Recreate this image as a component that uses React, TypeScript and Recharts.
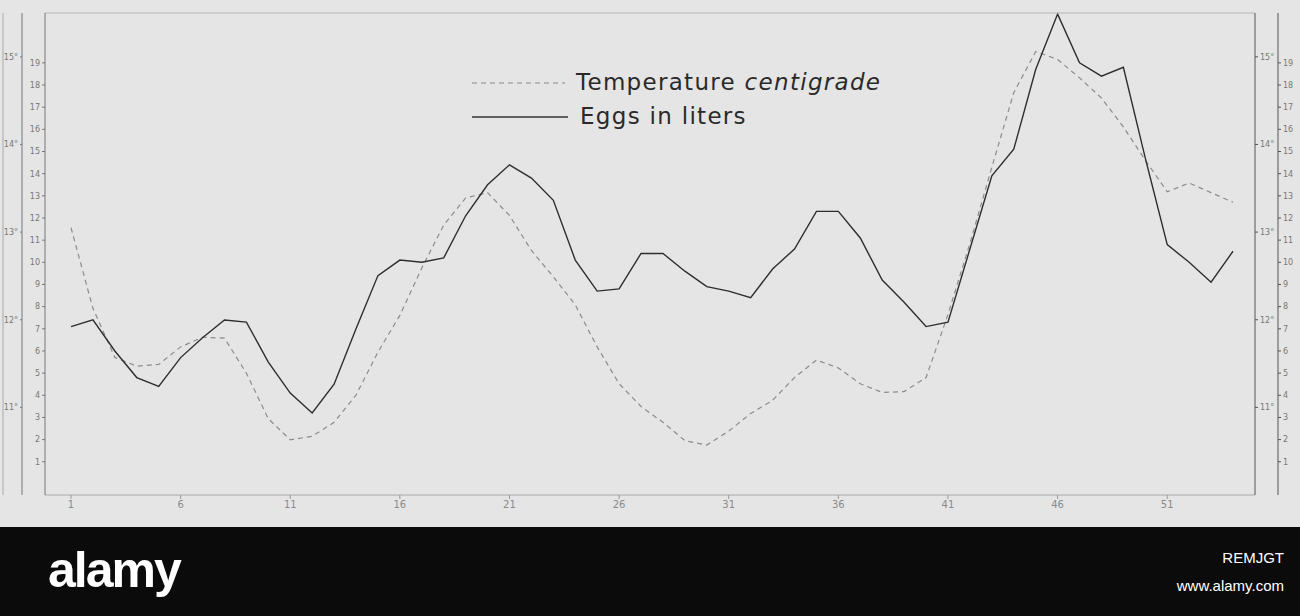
import { LineChart, Line, XAxis, YAxis, Legend } from 'recharts';

// day numbers along the bottom (one point per day)
const days = [
  '1', '2', '3', '4', '5', '6', '7', '8', '9', '10',
  '11', '12', '13', '14', '15', '16', '17', '18', '19', '20',
  '21', '22', '23', '24', '25', '26', '27', '28', '29', '30',
  '31', '32', '33', '34', '35', '36', '37', '38', '39', '40',
  '41', '42', '43', '44', '45', '46', '47', '48', '49', '50',
  '51', '52', '53', '54',
];

// temperature, degrees centigrade (dashed)
const temperature = [
  13.05, 12.13, 11.57, 11.47, 11.49, 11.69, 11.8, 11.79, 11.39, 10.87,
  10.63, 10.67, 10.83, 11.14, 11.63, 12.05, 12.59, 13.08, 13.39, 13.45,
  13.19, 12.79, 12.49, 12.17, 11.69, 11.27, 11.01, 10.83, 10.62, 10.57,
  10.73, 10.93, 11.08, 11.34, 11.54, 11.45, 11.27, 11.17, 11.18, 11.34,
  12.06, 12.87, 13.74, 14.59, 15.06, 14.97, 14.76, 14.53, 14.2, 13.82,
  13.46, 13.56, 13.45, 13.34,
];

// eggs in liters (solid)
const eggs = [
  7.1, 7.4, 6.0, 4.8, 4.4, 5.7, 6.6, 7.4, 7.3, 5.5,
  4.1, 3.2, 4.5, 7.0, 9.4, 10.1, 10.0, 10.2, 12.1, 13.5,
  14.4, 13.8, 12.8, 10.1, 8.7, 8.8, 10.4, 10.4, 9.6, 8.9,
  8.7, 8.4, 9.7, 10.6, 12.3, 12.3, 11.1, 9.2, 8.2, 7.1,
  7.3, 10.6, 13.9, 15.1, 18.7, 21.2, 19.0, 18.4, 18.8, 14.7,
  10.8, 10.0, 9.1, 10.5,
];

const tempTicks = [11, 12, 13, 14, 15];
const eggTicks = [1, 2, 3, 4, 5, 6, 7, 8, 9, 10, 11, 12, 13, 14, 15, 16, 17, 18, 19];

const data = days.map((d, i) => ({ day: d, temperature: temperature[i], eggs: eggs[i] }));

const inkFont = "'DejaVu Sans', sans-serif";

function LegendBox() {
  return (
    <svg width={440} height={72} style={{ display: 'block', overflow: 'visible' }}>
      <line x1={2} y1={21} x2={95} y2={21} stroke="#8a8a8a" strokeWidth={1.2} strokeDasharray="5 4" />
      <text x={106} y={28} fontSize={23} letterSpacing={1.3} fill="#2a2a2a" fontFamily={inkFont}>
        Temperature <tspan fontStyle="italic">centigrade</tspan>
      </text>
      <line x1={2} y1={55} x2={98} y2={55} stroke="#333" strokeWidth={1.3} />
      <text x={110} y={62} fontSize={23} letterSpacing={1.3} fill="#2a2a2a" fontFamily={inkFont}>
        Eggs in liters
      </text>
    </svg>
  );
}

const smallTick = { fontSize: 8, fill: '#777', fontFamily: inkFont };
const degree = (v: number) => `${v}°`;

export default function App() {
  return (
    <div style={{ position: 'absolute', top: 0, left: 0, width: 1300, height: 616, background: '#e5e5e5' }}>
      <LineChart
        width={1300}
        height={527}
        data={data}
        margin={{ top: 0, right: 0, bottom: 0, left: 0 }}
      >
        <XAxis
          xAxisId="bottom"
          dataKey="day"
          interval={4}
          padding={{ left: 26, right: 22 }}
          height={32}
          axisLine={{ stroke: '#aaa' }}
          tickLine={{ stroke: '#999' }}
          tickSize={4}
          tick={{ fontSize: 10, fill: '#8a8a8a', fontFamily: inkFont }}
        />
        <XAxis
          xAxisId="top"
          dataKey="day"
          orientation="top"
          height={13}
          tick={false}
          tickLine={false}
          padding={{ left: 26, right: 22 }}
          axisLine={{ stroke: '#b5b5b5' }}
        />
        {/* left: egg scale next to the plot, degrees outside it, then the sheet edge */}
        <YAxis
          yAxisId="L1"
          orientation="left"
          width={23}
          type="number"
          domain={[-0.5, 21.25]}
          ticks={eggTicks}
          tickSize={3}
          axisLine={{ stroke: '#777' }}
          tickLine={{ stroke: '#777' }}
          tick={smallTick}
        />
        <YAxis
          yAxisId="L2"
          orientation="left"
          width={19}
          type="number"
          domain={[10, 15.5]}
          ticks={tempTicks}
          tickSize={2}
          tickFormatter={degree}
          axisLine={{ stroke: '#777' }}
          tickLine={{ stroke: '#777' }}
          tick={smallTick}
        />
        <YAxis
          yAxisId="L3"
          orientation="left"
          width={3}
          type="number"
          domain={[0, 1]}
          tick={false}
          tickLine={false}
          axisLine={{ stroke: '#aaa' }}
        />
        {/* right: degrees next to the plot, egg scale outside */}
        <YAxis
          yAxisId="R1"
          orientation="right"
          width={23}
          type="number"
          domain={[10, 15.5]}
          ticks={tempTicks}
          tickSize={3}
          tickFormatter={degree}
          axisLine={{ stroke: '#555' }}
          tickLine={{ stroke: '#555' }}
          tick={smallTick}
        />
        <YAxis
          yAxisId="R2"
          orientation="right"
          width={22}
          type="number"
          domain={[-0.5, 21.25]}
          ticks={eggTicks}
          tickSize={3}
          axisLine={{ stroke: '#555' }}
          tickLine={{ stroke: '#555' }}
          tick={smallTick}
        />
        {/* invisible copies so the second scale on each side gets its ticks */}
        <Line xAxisId="bottom" yAxisId="L1" dataKey="eggs" stroke="none" dot={false} legendType="none" isAnimationActive={false} />
        <Line xAxisId="bottom" yAxisId="R1" dataKey="temperature" stroke="none" dot={false} legendType="none" isAnimationActive={false} />
        <Line
          xAxisId="bottom"
          yAxisId="L2"
          dataKey="temperature"
          type="linear"
          stroke="#8c8c8c"
          strokeWidth={1.2}
          strokeDasharray="5 4"
          dot={false}
          isAnimationActive={false}
        />
        <Line
          xAxisId="bottom"
          yAxisId="R2"
          dataKey="eggs"
          type="linear"
          stroke="#2e2e2e"
          strokeWidth={1.4}
          dot={false}
          isAnimationActive={false}
        />
        <Legend
          content={<LegendBox />}
          layout="horizontal"
          verticalAlign="middle"
          align="center"
          wrapperStyle={{ left: 470, top: 62, width: 440, height: 72 }}
        />
      </LineChart>
      <div style={{ position: 'absolute', left: 0, top: 527, width: 1300, height: 89, background: '#0b0b0b' }}>
        <div style={{ position: 'absolute', left: 48, top: 14, color: '#fff', fontFamily: "'Liberation Sans', sans-serif", fontWeight: 'bold', fontSize: 50, letterSpacing: -2 }}>
          alamy
        </div>
        <div style={{ position: 'absolute', right: 16, top: 22, color: '#fff', fontFamily: "'Liberation Sans', sans-serif", fontSize: 15 }}>
          REMJGT
        </div>
        <div style={{ position: 'absolute', right: 16, top: 50, color: '#fff', fontFamily: "'Liberation Sans', sans-serif", fontSize: 15 }}>
          www.alamy.com
        </div>
      </div>
    </div>
  );
}
